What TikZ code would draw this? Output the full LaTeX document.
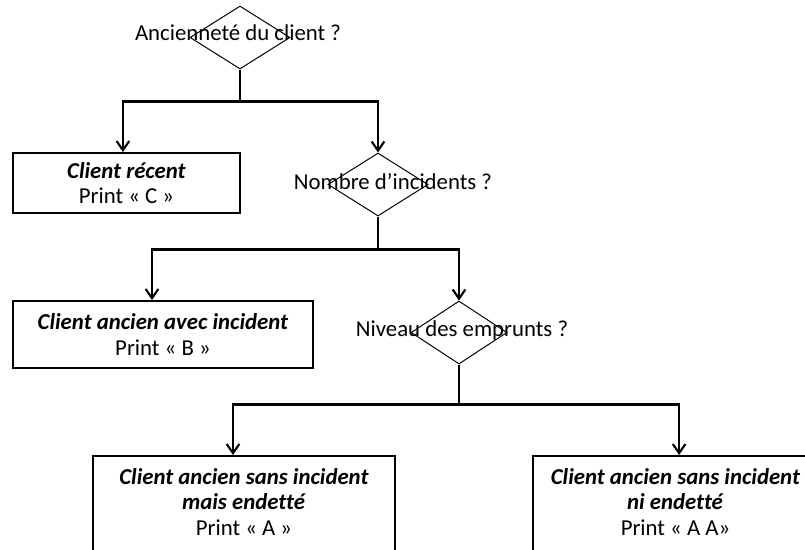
\documentclass[tikz,border=0pt]{standalone}
\usepackage{fontspec}
\setmainfont{Carlito}[Ligatures=NoCommon]
\usetikzlibrary{shapes.geometric, arrows.meta, positioning}
\tikzset{
  decision/.style={diamond, draw=black, line width=0.7pt, minimum width=2.5cm, minimum height=1.575cm, inner sep=0pt},
  questiontext/.style={font=\fontsize{16.2}{18.2}\selectfont, inner sep=0pt},
  outcomebox/.style={rectangle, draw=black, line width=1.4pt, align=center, font=\fontsize{16.2}{18.2}\selectfont, inner sep=0pt},
  outcometext/.style={align=center, font=\fontsize{16.2}{18.2}\selectfont, inner sep=0pt},
  link/.style={line width=1.5pt},
  arrow/.style={-{Straight Barb[length=6.5pt,width=9pt]}, line width=1.5pt}
}

\begin{document}
\begin{tikzpicture}[x=0.025cm, y=-0.025cm]
  \useasboundingbox (0,0) rectangle (805,549);

  % Question 1
  \node[decision] (seniority) at (240,37.5) {};
  \node[questiontext] (seniority-text) at (238,33) {Ancienneté du client ?};
  \node[outcomebox, minimum width=5.675cm, minimum height=1.5cm] (recent) at (126.5,183)
    {\textbf{\textit{Client récent}}\\Print « C »};

  % Question 2
  \node[decision] (incidents) at (378,184.5) {};
  \node[questiontext] (incidents-text) at (393,182) {Nombre d’incidents ?};
  \node[outcomebox, minimum width=7.5cm, minimum height=1.675cm] (withincident) at (163,334.5)
    {\textbf{\textit{Client ancien avec incident}}\\Print « B »};

  % Question 3
  \node[decision, minimum width=2.4cm] (loans) at (459,332.5) {};
  \node[questiontext] (loans-text) at (462,330) {Niveau des emprunts ?};

  % Leaves
  \node[outcomebox, minimum width=7.55cm, minimum height=2.85cm] (indebted) at (244,513) {};
  \node[outcometext] (indebted-text) at (244,502)
    {\textbf{\textit{Client ancien sans incident}}\\\textbf{\textit{mais endetté}}\\Print « A »};
  \node[outcomebox, minimum width=7.125cm, minimum height=2.85cm] (clean) at (675.5,513) {};
  \node[outcometext] (clean-text) at (675.5,502)
    {\textbf{\textit{Client ancien sans incident}}\\\textbf{\textit{ni endetté}}\\Print « A A»};

  % Connectors
  \draw[link] (seniority.south) -- ++(0,32) coordinate (split1);
  \draw[arrow] (split1) -| ([xshift=-0.09cm]recent.north);
  \draw[arrow] (split1) -| (incidents.north);

  \draw[link] (incidents.south) -- ++(0,33) coordinate (split2);
  \draw[arrow] (split2) -| ([xshift=-0.275cm]withincident.north);
  \draw[arrow] (split2) -| (loans.north);

  \draw[link] (loans.south) -- ++(0,40) coordinate (split3);
  \draw[arrow] (split3) -| ([xshift=-0.275cm]indebted.north);
  \draw[arrow] (split3) -| ([xshift=0.09cm]clean.north);
\end{tikzpicture}
\end{document}
